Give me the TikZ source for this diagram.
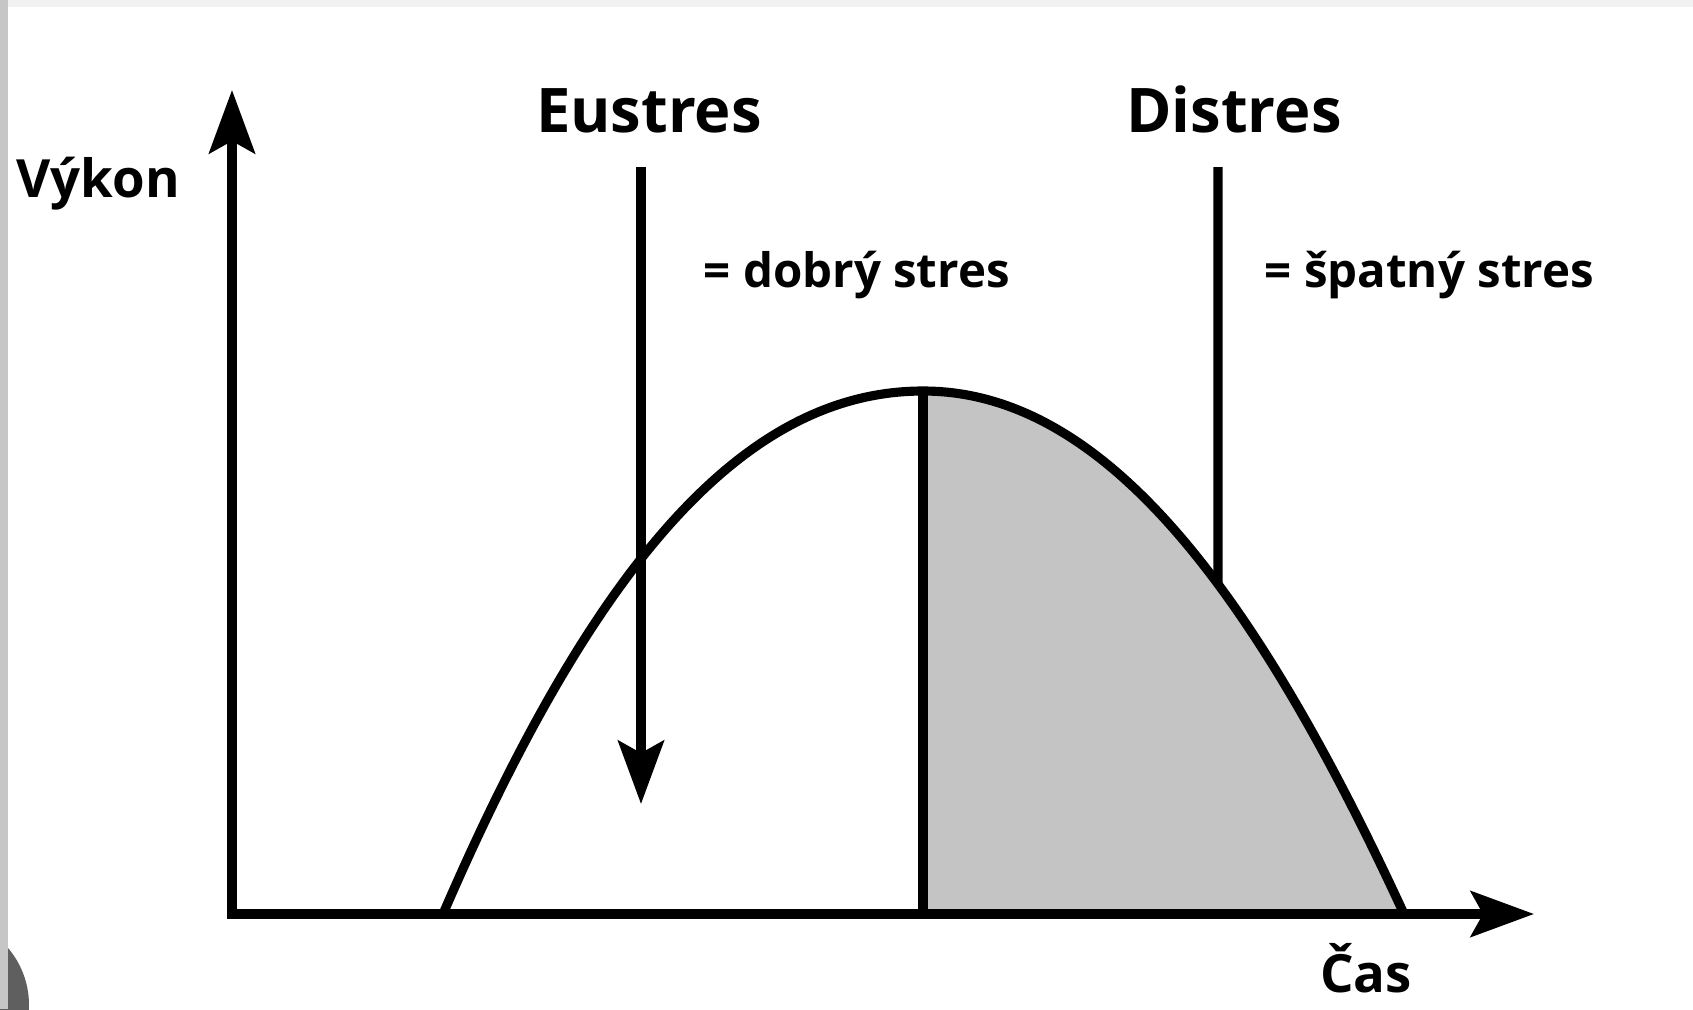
\documentclass[tikz,border=0pt]{standalone}
\usepackage{fontspec}
\setmainfont{Open Sans}
\usepackage{tikz}
\usetikzlibrary{arrows.meta,positioning,calc,intersections}
\definecolor{shadegray}{RGB}{196,196,196}
\definecolor{edgegray}{RGB}{198,198,198}
\definecolor{topgray}{RGB}{242,242,242}
\definecolor{cornergray}{RGB}{95,95,95}

\begin{document}
\begin{tikzpicture}[
    x=0.1mm, y=-0.1mm,
    axis/.style={line width=2.6pt, -{Stealth[length=18pt, width=13pt, inset=3.5pt]}},
    stroke/.style={line width=2.6pt},
    bigtitle/.style={font=\bfseries\fontsize{17.5}{20}\selectfont, anchor=base, inner sep=0pt},
    axislabel/.style={font=\bfseries\fontsize{15}{18}\selectfont, inner sep=0pt},
    meaning/.style={font=\bfseries\fontsize{13.5}{16}\selectfont, anchor=base west, inner sep=0pt}
]
\useasboundingbox (0,0) rectangle (1693,1009);
\fill[white] (0,0) rectangle (1693,1009);
\fill[cornergray] (-59,1005) circle (88);
\fill[edgegray] (0,0) rectangle (8,1009);
\fill[topgray] (8,0) rectangle (1693,7);

\coordinate (origin) at (232,914);
\coordinate (ytip) at (232,90);
\coordinate (xtip) at (1534,914);
\coordinate (start) at (443,914);
\coordinate (peak) at (923,391);
\coordinate (stop) at (1404,914);
\coordinate (peakfoot) at (923,914);

\fill[shadegray] (peakfoot) -- (peak) .. controls (1100,391) and (1250,580) .. (stop) -- cycle;

\draw[line width=2.6pt, {Stealth[length=18pt, width=13pt, inset=3.5pt]}-{Stealth[length=18pt, width=13pt, inset=3.5pt]}]
    (ytip) -- (origin) -- (xtip);

\draw[stroke, name path=curve] (start) .. controls (596,560) and (746,391) .. (peak)
    .. controls (1100,391) and (1250,580) .. (stop);
\draw[stroke] (peak) -- (peakfoot);

\coordinate (eutop) at (641,167);
\coordinate (eutip) at (641,804);
\draw[axis] (eutop) -- (eutip);

\coordinate (ditop) at (1218,167);
\path[name path=distline] (ditop) -- (1218,914);
\draw[stroke, name intersections={of=curve and distline, by=difoot}] (ditop) -- (difoot);

\node[bigtitle] (eustres) at (649,132) {Eustres};
\node[bigtitle] (distres) at (1234,132) {Distres};
\node[meaning] (good) at (703,287) {= dobrý stres};
\node[meaning] (bad) at (1264,287) {= špatný stres};
\node[axislabel, anchor=base west] (vykon) at (16,197) {Výkon};
\node[axislabel, anchor=base] (cas) at (1366,992) {Čas};
\end{tikzpicture}
\end{document}
